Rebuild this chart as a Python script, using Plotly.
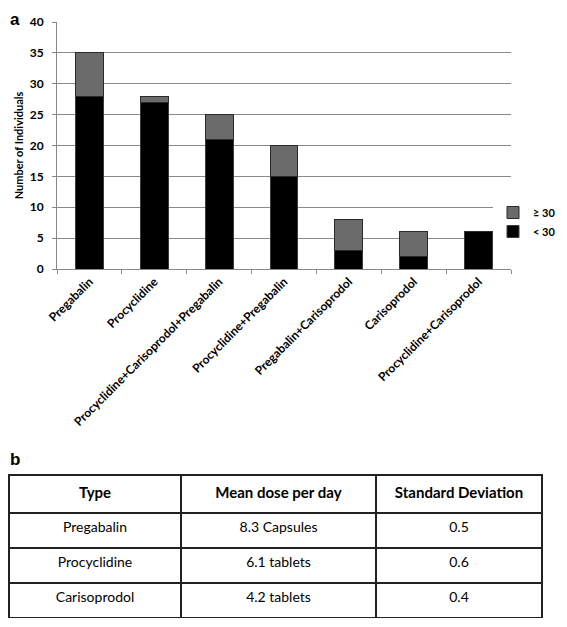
import plotly.graph_objects as go

drugs = ["Pregabalin", "Procyclidine", "Procyclidine+Carisoprodol+Pregabalin",
         "Procyclidine+Pregabalin", "Pregabalin+Carisoprodol", "Carisoprodol",
         "Procyclidine+Carisoprodol"]
under_30 = [28, 27, 21, 15, 3, 2, 6]
over_30 = [7, 1, 4, 5, 5, 4, 0]

table_type = ["Pregabalin", "Procyclidine", "Carisoprodol"]
table_dose = ["8.3 Capsules", "6.1 tablets", "4.2 tablets"]
table_sd = ["0.5", "0.6", "0.4"]

OFF = 8  # page body margin
W, H = 567 - 2 * OFF, 627 - 2 * OFF
font = "Lato"


def px(p):
    return max(0, (p - OFF) / W)


def py(p):
    return min(1, max(0, 1 - (p - OFF) / H))


fig = go.Figure()
fig.add_trace(go.Bar(
    x=drugs, y=under_30, name="< 30",
    marker=dict(color="#000000", line=dict(color="#3a3a3a", width=1)),
    width=0.43
))
fig.add_trace(go.Bar(
    x=drugs, y=over_30, name="≥ 30",
    marker=dict(color="#6b6b6b", line=dict(color="#2a2a2a", width=1)),
    width=0.43
))

fig.add_trace(go.Table(
    domain=dict(x=[px(9), px(542)], y=[py(619), py(475)]),
    columnwidth=[172, 195, 166],
    header=dict(
        values=["<b>Type</b>", "<b>Mean dose per day</b>", "<b>Standard Deviation</b>"],
        fill_color="white", line=dict(color="#222222", width=1.3),
        font=dict(family=font, size=15, color="black"),
        align="center", height=38
    ),
    cells=dict(
        values=[table_type, table_dose, table_sd],
        fill_color="white", line=dict(color="#222222", width=1.3),
        font=dict(family=font, size=14, color="black"),
        align="center", height=35
    )
))

fig.update_layout(
    width=W, height=H,
    margin=dict(l=0, r=0, t=0, b=0, autoexpand=False),
    barmode="stack",
    plot_bgcolor="white",
    paper_bgcolor="white",
    font=dict(family=font, color="black"),
    legend=dict(
        x=px(493), xanchor="left", y=py(198), yanchor="top",
        traceorder="reversed",
        font=dict(family=font, size=11, color="black", weight="bold"),
        itemwidth=30
    ),
    xaxis=dict(
        domain=[px(57), px(511)],
        tickangle=-45,
        tickfont=dict(family=font, size=12, color="black", weight="bold"),
        showline=True, linecolor="#888888", linewidth=1,
        ticks="outside", ticklen=4, tickcolor="#888888",
        tickson="boundaries", showgrid=False, automargin=False
    ),
    yaxis=dict(
        domain=[py(269), py(22)],
        range=[0, 40], dtick=5,
        tickfont=dict(family=font, size=12, color="black", weight="bold"),
        showline=True, linecolor="#888888", linewidth=1,
        ticks="outside", ticklen=4, tickcolor="#888888",
        ticklabelstandoff=6,
        gridcolor="#8a8a8a", gridwidth=1, automargin=False,
        title=dict(text="Number of Individuals", standoff=3,
                   font=dict(family=font, size=11, color="black", weight="bold"))
    ),
    annotations=[
        dict(text="<b>a</b>", x=0, y=1, xref="paper", yref="paper",
             xanchor="left", yanchor="top", showarrow=False,
             font=dict(family="Liberation Sans", size=17, color="black")),
        dict(text="<b>b</b>", x=0, y=py(448), xref="paper", yref="paper",
             xanchor="left", yanchor="top", showarrow=False,
             font=dict(family="Liberation Sans", size=17, color="black")),
    ]
)

fig.write_html("out.html")
